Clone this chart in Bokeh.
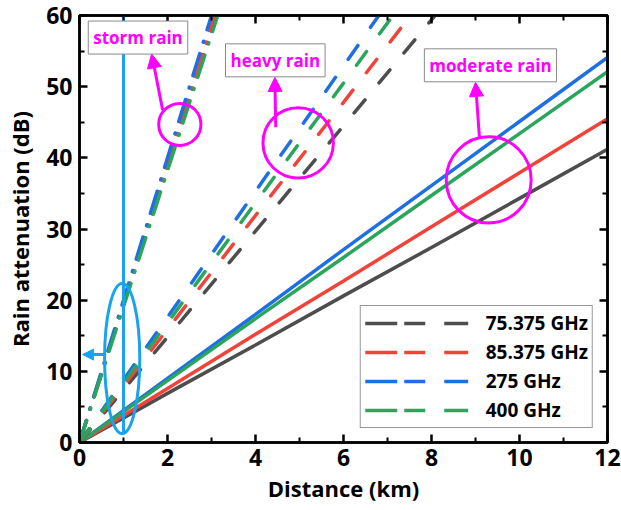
from bokeh.plotting import figure
from bokeh.models import (Range1d, LinearAxis, Legend, LegendItem, Label, Arrow,
                          NormalHead, FixedTicker, CustomJSTickFormatter)
from bokeh.embed import file_html
from bokeh.resources import INLINE

# ---------------- data ----------------
freq_labels = ["75.375 GHz", "85.375 GHz", "275 GHz", "400 GHz"]
colors = ["#4d4d4d", "#f2433a", "#1e6fe3", "#2aa55c"]

# moderate rain (solid)
moderate_km = [0, 2, 4, 6, 8, 10, 12]
moderate_db = [
    [0, 6.9, 13.7, 20.6, 27.4, 34.3, 41.2],
    [0, 7.6, 15.2, 22.7, 30.3, 37.9, 45.5],
    [0, 9.0, 18.0, 27.1, 36.1, 45.1, 54.1],
    [0, 8.7, 17.4, 26.0, 34.7, 43.4, 52.1],
]
# heavy rain (dashed)
heavy_km = [0, 2, 4, 6, 8, 10]
heavy_db = [
    [0, 14.8, 29.7, 44.5, 59.4, 74.2],
    [0, 15.9, 31.9, 47.8, 63.8, 79.7],
    [0, 17.6, 35.3, 52.9, 70.6, 88.2],
    [0, 16.8, 33.7, 50.5, 67.4, 84.2],
]
# storm rain (dash-dot)
storm_km = [0, 1, 2, 3, 4]
storm_db = [
    [0, 19.3, 38.6, 57.9, 77.2],
    [0, 19.6, 39.2, 58.8, 78.4],
    [0, 20.0, 40.0, 60.0, 80.0],
    [0, 19.1, 38.2, 57.3, 76.4],
]

FONT = "Open Sans"
MAG = "#ff00ff"
LBLUE = "#1aa3ec"

p = figure(width=621, height=510, output_backend="svg", toolbar_location=None,
           x_range=Range1d(0, 12), y_range=Range1d(0, 60),
           min_border_left=79, min_border_right=14, min_border_top=15, min_border_bottom=68)
p.xgrid.visible = False
p.ygrid.visible = False
p.outline_line_color = "black"
p.outline_line_width = 2.5
p.background_fill_color = "white"
p.border_fill_color = "white"

xt = FixedTicker(ticks=[0, 2, 4, 6, 8, 10, 12], minor_ticks=[1, 3, 5, 7, 9, 11])
yt = FixedTicker(ticks=[0, 10, 20, 30, 40, 50, 60], minor_ticks=[5, 15, 25, 35, 45, 55])

def style_axis(ax, labels=True):
    ax.axis_line_color = "black"
    ax.axis_line_width = 2.5
    ax.major_tick_line_color = "black"
    ax.major_tick_line_width = 2.5
    ax.minor_tick_line_color = "black"
    ax.minor_tick_line_width = 2
    ax.major_tick_in = 8
    ax.major_tick_out = 0
    ax.minor_tick_in = 5
    ax.minor_tick_out = 0
    if labels:
        ax.major_label_text_font = FONT
        ax.major_label_text_font_style = "bold"
        ax.major_label_text_font_size = "23px"
        ax.major_label_text_color = "black"
        ax.axis_label_text_font = FONT
        ax.axis_label_text_font_style = "bold"
        ax.axis_label_text_font_size = "22px"
        ax.axis_label_text_color = "black"
    else:
        ax.formatter = CustomJSTickFormatter(code="return ''")
        ax.major_label_standoff = 0

p.xaxis.ticker = xt
p.yaxis.ticker = yt
p.xaxis.axis_label = "Distance (km)"
p.yaxis.axis_label = "Rain attenuation (dB)"
style_axis(p.xaxis[0])
style_axis(p.yaxis[0])
p.xaxis.major_label_standoff = 6
p.xaxis.axis_label_standoff = 4
p.yaxis.major_label_standoff = 7
p.yaxis.axis_label_standoff = 8

top = LinearAxis(ticker=xt)
right = LinearAxis(ticker=yt)
style_axis(top, labels=False)
style_axis(right, labels=False)
p.add_layout(top, "above")
p.add_layout(right, "right")

# ---------------- lines ----------------
order = [0, 1, 2, 3]
for i in order:
    p.line(moderate_km, moderate_db[i], line_color=colors[i], line_width=3.5)
for i in order:
    p.line(heavy_km, heavy_db[i], line_color=colors[i], line_width=3.5,
           line_dash="17 22", line_cap="round")
for i in order:
    p.line(storm_km, storm_db[i], line_color=colors[i], line_width=3.5,
           line_dash="23 12 1 12", line_cap="round")

# ---------------- annotations ----------------
# vertical line at 1 km and its ellipse + arrow
p.segment(x0=[1], y0=[1.2], x1=[1], y1=[60], line_color=LBLUE, line_width=3)
p.ellipse(x=[0.97], y=[11.8], width=[0.8], height=[21.1], fill_color=None,
          line_color=LBLUE, line_width=3)
p.add_layout(Arrow(x_start=0.57, y_start=12.35, x_end=0.07, y_end=12.35,
                   line_color=LBLUE, line_width=3,
                   end=NormalHead(size=11, fill_color=LBLUE, line_color=LBLUE)))

# magenta circles
p.ellipse(x=[2.28, 4.97, 9.3], y=[44.7, 42.1, 36.9], width=[0.96, 1.6, 1.93],
          height=[5.9, 9.9, 12.1], fill_color=None, line_color=MAG, line_width=3)

arrows = [(1.89, 46.7, 1.64, 54.6), (4.46, 44.3, 4.44, 51.3), (9.09, 42.8, 9.0, 50.6)]
for xs, ys, xe, ye in arrows:
    p.add_layout(Arrow(x_start=xs, y_start=ys, x_end=xe, y_end=ye,
                       line_color=MAG, line_width=3,
                       end=NormalHead(size=14, fill_color=MAG, line_color=MAG)))

texts = [("storm rain", 1.33, 56.9), ("heavy rain", 4.45, 53.7), ("moderate rain", 9.34, 53.0)]
for t, x, y in texts:
    p.add_layout(Label(x=x, y=y, text=t, text_align="center", text_baseline="middle",
                       text_font=FONT, text_font_style="bold", text_font_size="17px",
                       text_color=MAG, background_fill_color="white",
                       border_line_color="#8a8a8a", border_line_width=1, padding=5))

# ---------------- legend ----------------
nan = float("nan")
items = []
for i in order:
    r = p.line(x=[nan, nan], y=[nan, nan], line_color=colors[i], line_width=3.5,
               line_dash="32 7 21 19 24 200")
    items.append(LegendItem(label=freq_labels[i], renderers=[r]))
legend = Legend(items=items, location="bottom_right", margin=14,
                glyph_width=104, glyph_height=26, label_height=26, spacing=3,
                padding=4, label_standoff=17,
                label_text_font=FONT, label_text_font_style="bold",
                label_text_font_size="19px", label_text_color="black",
                border_line_color="#333333", border_line_width=1,
                background_fill_color="white", background_fill_alpha=1)
p.add_layout(legend, "center")

open("out.html", "w").write(file_html(p, INLINE))
